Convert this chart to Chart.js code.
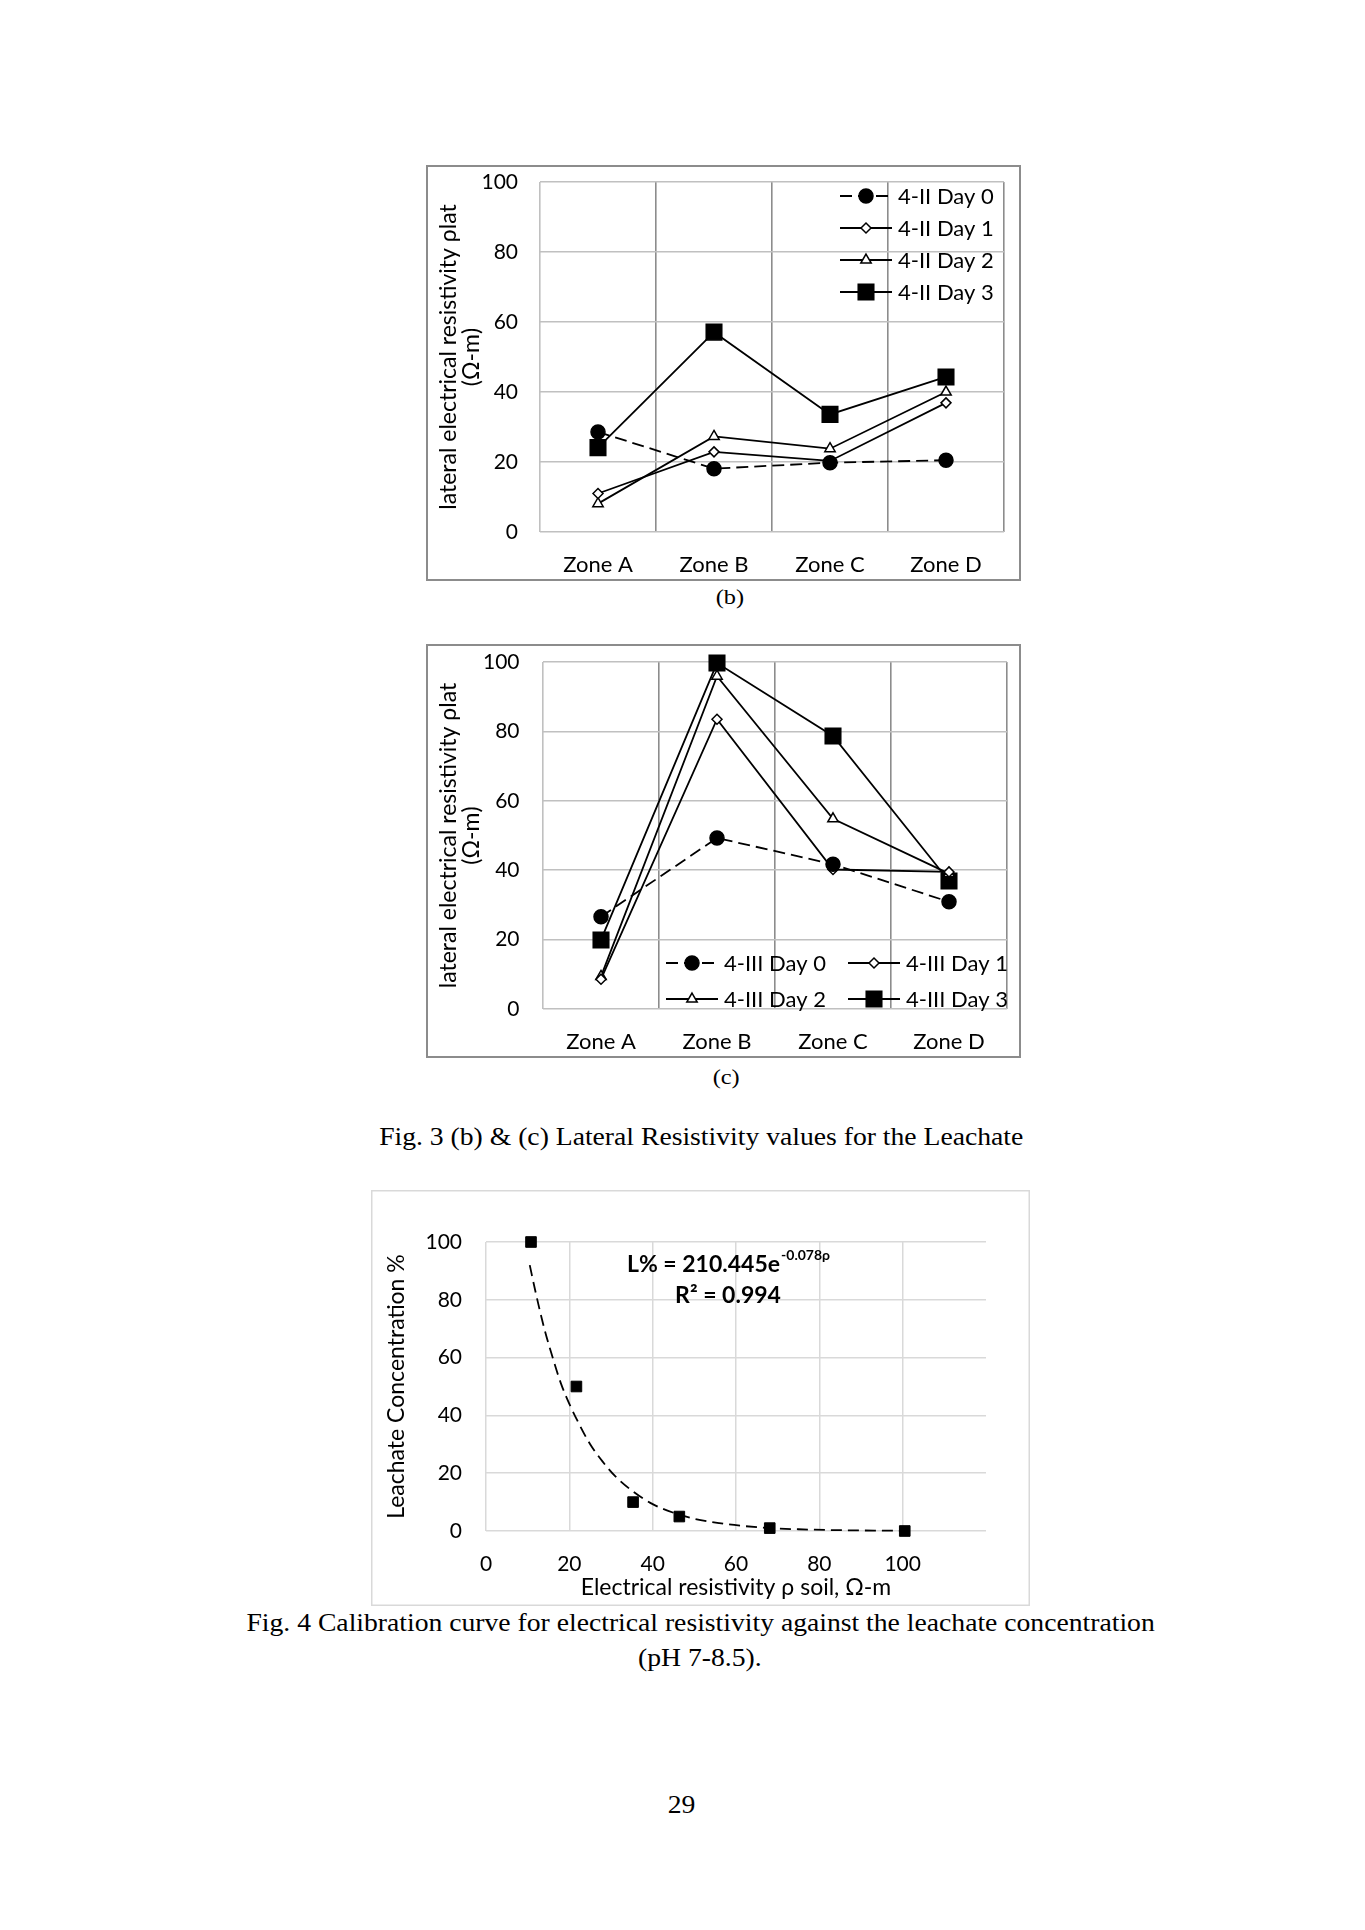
<!DOCTYPE html>
<html>
<head>
<meta charset="utf-8">
<script src="https://cdn.jsdelivr.net/npm/chart.js@4.4.1/dist/chart.umd.min.js"></script>
<style>
  body { margin: 0; background: #fff; }
  #page { position: relative; width: 1365px; height: 1930px; background: #fff; overflow: hidden; }
  .box { position: absolute; }
  .cap { position: absolute; width: 1200px; text-align: center; font-family: "Liberation Serif", "Times New Roman", serif; font-size: 25px; line-height: 30px; color: #000; white-space: nowrap; }
  .cap span { display: inline-block; transform-origin: 50% 50%; }
  .small { font-size: 22px; }
</style>
</head>
<body>
<div id="page">
  <div class="box" style="left:426px;top:165px;width:595px;height:416px"><canvas id="chart-b"></canvas></div>
  <div class="cap small" style="left:130px;top:582px"><span>(b)</span></div>

  <div class="box" style="left:426px;top:644px;width:595px;height:414px"><canvas id="chart-c"></canvas></div>
  <div class="cap small" style="left:126px;top:1062px"><span>(c)</span></div>

  <div class="cap" style="left:101px;top:1122px"><span>Fig. 3 (b) &amp; (c) Lateral Resistivity values for the Leachate</span></div>

  <div class="box" style="left:371px;top:1190px;width:659px;height:416px"><canvas id="chart-calib"></canvas></div>

  <div class="cap" id="fig4" style="left:101px;top:1608px"><span>Fig. 4 Calibration curve for electrical resistivity against the leachate concentration</span></div>
  <div class="cap" style="left:100px;top:1643px"><span>(pH 7-8.5).</span></div>

  <div class="cap" style="left:81px;top:1790px"><span>29</span></div>
</div>

<script>
// --- data ---
const zones = ['Zone A', 'Zone B', 'Zone C', 'Zone D'];
const zoneTicks = [0, 20, 40, 60, 80, 100];

const namesB = ['4-II Day 0', '4-II Day 1', '4-II Day 2', '4-II Day 3'];
const bDay0 = [28.6, 18.1, 19.8, 20.5];
const bDay1 = [11.0, 22.9, 20.3, 36.9];
const bDay2 = [8.1, 27.3, 23.8, 40.0];
const bDay3 = [24.1, 57.1, 33.6, 44.3];

const namesC = ['4-III Day 0', '4-III Day 1', '4-III Day 2', '4-III Day 3'];
const cDay0 = [26.6, 49.3, 41.7, 30.9];
const cDay1 = [8.6, 83.5, 40.2, 39.5];
const cDay2 = [9.4, 95.9, 54.8, 39.0];
const cDay3 = [19.9, 99.7, 78.7, 36.9];

// Fig. 4 calibration points and dashed trend line
const calibRho = [10.8, 21.7, 35.3, 46.4, 68.1, 100.5];
const calibL = [100, 50, 10, 5, 1, 0];
const trendRho = [10.5, 12, 14, 16, 18, 20, 22, 25, 28, 31, 35, 40, 45, 50, 56, 62, 68, 75, 82, 90, 100.5];
const trendL = [92, 82, 70, 60, 51, 44, 38, 30, 24, 19, 14, 9.3, 6.3, 4.2, 2.7, 1.7, 1.0, 0.6, 0.35, 0.19, 0.08];
const rhoGrid = [0, 20, 40, 60, 80, 100, 120];
const rhoTicks = [0, 20, 40, 60, 80, 100];
const lTicks = [0, 20, 40, 60, 80, 100];
const fitA = '210.445';
const fitK = '-0.078';
const fitR2 = '0.994';

// marker look for Day 0..3
const markers = [
  { style: 'circle', r: 7, fill: '#000', dash: [12, 6] },
  { style: 'rectRot', r: 5, fill: '#fff', dash: [] },
  { style: 'triangle', r: 6, fill: '#fff', dash: [] },
  { style: 'rect', r: 11, fill: '#000', dash: [] }
];

function drawMarker(ctx, m, x, y) {
  const r = m.r;
  ctx.beginPath();
  if (m.style === 'circle') {
    ctx.arc(x, y, r, 0, Math.PI * 2);
  } else if (m.style === 'rect') {
    const s = r * Math.SQRT1_2;
    ctx.rect(x - s, y - s, 2 * s, 2 * s);
  } else if (m.style === 'rectRot') {
    ctx.moveTo(x - r, y); ctx.lineTo(x, y - r); ctx.lineTo(x + r, y); ctx.lineTo(x, y + r);
    ctx.closePath();
  } else {
    for (let k = 0; k < 3; k++) {
      const a = k * 2 * Math.PI / 3;
      const px = x + Math.sin(a) * r, py = y - Math.cos(a) * r;
      if (k === 0) ctx.moveTo(px, py); else ctx.lineTo(px, py);
    }
    ctx.closePath();
  }
  ctx.setLineDash([]);
  ctx.fillStyle = m.fill;
  ctx.fill();
  ctx.lineWidth = 1.5;
  ctx.strokeStyle = '#000';
  ctx.stroke();
}

const frame = {
  id: 'frame',
  beforeDraw(chart, args, opts) {
    const { ctx, width, height } = chart;
    ctx.save();
    ctx.fillStyle = '#fff';
    ctx.fillRect(0, 0, width, height);
    ctx.strokeStyle = opts.color;
    ctx.lineWidth = opts.width;
    ctx.strokeRect(opts.width / 2, opts.width / 2, width - opts.width, height - opts.width);
    ctx.restore();
  }
};

// legend drawn inside the plot, line + marker like the spreadsheet one
const insideLegend = {
  id: 'insideLegend',
  afterDatasetsDraw(chart, args, opts) {
    if (!opts || !opts.x) return;
    const ctx = chart.ctx;
    ctx.save();
    ctx.font = '22px Lato';
    ctx.textBaseline = 'middle';
    ctx.textAlign = 'left';
    chart.data.datasets.forEach((ds, i) => {
      const col = i % opts.cols, row = Math.floor(i / opts.cols);
      const x = opts.x[col], y = opts.y + row * opts.rowGap;
      ctx.beginPath();
      ctx.setLineDash(ds.borderDash || []);
      ctx.lineWidth = ds.borderWidth;
      ctx.strokeStyle = '#000';
      ctx.moveTo(x, y);
      ctx.lineTo(x + opts.len, y);
      ctx.stroke();
      drawMarker(ctx, markers[i], x + opts.len / 2, y);
      ctx.fillStyle = '#000';
      ctx.fillText(ds.label, x + opts.len + 6, y + 1);
    });
    ctx.restore();
  }
};

const equation = {
  id: 'equation',
  afterDraw(chart, args, opts) {
    if (!opts || !opts.main) return;
    const ctx = chart.ctx;
    ctx.save();
    ctx.fillStyle = '#000';
    ctx.textBaseline = 'alphabetic';
    const mainFont = 'bold 23px Lato', supFont = 'bold 14px Lato';
    ctx.font = mainFont;
    const w1 = ctx.measureText(opts.main).width;
    ctx.font = supFont;
    const w2 = ctx.measureText(opts.sup).width;
    const x0 = opts.x - (w1 + w2) / 2;
    ctx.textAlign = 'left';
    ctx.font = mainFont;
    ctx.fillText(opts.main, x0, opts.y);
    ctx.font = supFont;
    ctx.fillText(opts.sup, x0 + w1 + 1, opts.y - 12);
    ctx.font = mainFont;
    ctx.textAlign = 'center';
    ctx.fillText(opts.r2, opts.x, opts.y2);
    ctx.restore();
  }
};

function zoneSets(names, series) {
  return series.map((vals, i) => ({
    label: names[i],
    data: vals,
    borderColor: '#000',
    borderWidth: 1.8,
    borderDash: markers[i].dash,
    pointStyle: markers[i].style,
    pointRadius: markers[i].r,
    pointHoverRadius: markers[i].r,
    pointBackgroundColor: markers[i].fill,
    pointBorderColor: '#000',
    pointBorderWidth: 1.5,
    tension: 0,
    fill: false,
    clip: false
  }));
}

function zoneChart(id, sets, cfg) {
  return new Chart(document.getElementById(id), {
    type: 'line',
    data: { labels: zones, datasets: sets },
    plugins: [frame, insideLegend],
    options: {
      responsive: true,
      maintainAspectRatio: false,
      animation: false,
      layout: { padding: { left: 0, top: cfg.top, right: cfg.right, bottom: 0 } },
      plugins: {
        legend: { display: false },
        tooltip: { enabled: false },
        frame: { color: '#8c8c8c', width: 2 },
        insideLegend: cfg.legend
      },
      scales: {
        x: {
          offset: true,
          grid: { offset: true, drawTicks: false, lineWidth: 1.6, color: c => c.index === 0 ? '#c0c0c0' : '#8c8c8c' },
          border: { display: false },
          ticks: { font: { family: 'Lato', size: 22 }, color: '#000', padding: 20 },
          afterFit: s => { s.height = cfg.xh; s.paddingLeft = 0; s.paddingRight = 0; }
        },
        y: {
          min: 0,
          max: 100,
          afterBuildTicks: s => { s.ticks = zoneTicks.map(v => ({ value: v })); },
          grid: { drawTicks: false, color: '#c0c0c0', lineWidth: 1.6 },
          border: { display: false },
          ticks: { font: { family: 'Lato', size: 21 }, color: '#000', padding: cfg.tickPad },
          title: {
            display: true,
            text: ['lateral electrical resistivity ρlat', '(Ω-m)'],
            color: '#000',
            font: { family: 'Lato', size: 23, lineHeight: '23.5px' },
            padding: { top: 10.75, bottom: 0 }
          },
          afterFit: s => { s.width = cfg.yw; s.paddingTop = 0; s.paddingBottom = 0; }
        }
      }
    }
  });
}

zoneChart('chart-b', zoneSets(namesB, [bDay0, bDay1, bDay2, bDay3]), {
  top: 17, right: 17, xh: 49, yw: 114, tickPad: 22,
  legend: { x: [414], y: 31, rowGap: 32, len: 52, cols: 1 }
});

zoneChart('chart-c', zoneSets(namesC, [cDay0, cDay1, cDay2, cDay3]), {
  top: 18, right: 14, xh: 49, yw: 117, tickPad: 23.5,
  legend: { x: [240, 422], y: 319, rowGap: 36, len: 52, cols: 2 }
});

new Chart(document.getElementById('chart-calib'), {
  type: 'scatter',
  data: {
    datasets: [
      {
        label: 'Calibration',
        data: calibRho.map((x, i) => ({ x: x, y: calibL[i] })),
        pointStyle: 'rect',
        pointRadius: 7.5,
        pointHoverRadius: 7.5,
        pointBackgroundColor: '#000',
        pointBorderColor: '#000',
        pointBorderWidth: 1,
        showLine: false,
        clip: false
      },
      {
        label: 'Trend',
        data: trendRho.map((x, i) => ({ x: x, y: trendL[i] })),
        showLine: true,
        pointRadius: 0,
        borderColor: '#000',
        borderWidth: 1.8,
        borderDash: [11, 6],
        cubicInterpolationMode: 'monotone',
        clip: false
      }
    ]
  },
  plugins: [frame, equation],
  options: {
    responsive: true,
    maintainAspectRatio: false,
    animation: false,
    layout: { padding: { left: 0, top: 52, right: 44, bottom: 0 } },
    plugins: {
      legend: { display: false },
      tooltip: { enabled: false },
      frame: { color: '#d9d9d9', width: 1.5 },
      equation: {
        main: 'L% = ' + fitA + 'e',
        sup: fitK + 'ρ',
        r2: 'R² = ' + fitR2,
        x: 357, y: 82, y2: 113
      }
    },
    scales: {
      x: {
        type: 'linear',
        min: 0,
        max: 120,
        afterBuildTicks: s => { s.ticks = rhoGrid.map(v => ({ value: v })); },
        grid: { drawTicks: false, lineWidth: 1.5, color: c => (c.tick && c.tick.value === 120) ? 'rgba(0,0,0,0)' : '#d9d9d9' },
        border: { display: false },
        ticks: {
          font: { family: 'Lato', size: 21 }, color: '#000', padding: 21,
          callback: v => rhoTicks.includes(v) ? String(v) : ''
        },
        title: {
          display: true,
          text: 'Electrical resistivity ρ soil, Ω-m',
          color: '#000',
          font: { family: 'Lato', size: 23 },
          padding: { top: 0, bottom: 5 }
        },
        afterFit: s => { s.height = 75; }
      },
      y: {
        min: 0,
        max: 100,
        afterBuildTicks: s => { s.ticks = lTicks.map(v => ({ value: v })); },
        grid: { drawTicks: false, color: '#d9d9d9', lineWidth: 1.5 },
        border: { display: false },
        ticks: { font: { family: 'Lato', size: 21 }, color: '#000', padding: 24 },
        title: {
          display: true,
          text: 'Leachate Concentration %',
          color: '#000',
          font: { family: 'Lato', size: 23 },
          padding: { top: 12, bottom: 0 }
        },
        afterFit: s => { s.width = 115; }
      }
    }
  }
});

// squeeze the serif captions to the narrow width of the scanned page
function fitCaptions() {
  const ref = document.querySelector('#fig4 span');
  const k = 908 / ref.offsetWidth;
  document.querySelectorAll('.cap span').forEach(s => { s.style.transform = 'scaleX(' + k.toFixed(3) + ')'; });
}
if (document.fonts && document.fonts.ready) document.fonts.ready.then(fitCaptions); else fitCaptions();
</script>
</body>
</html>
